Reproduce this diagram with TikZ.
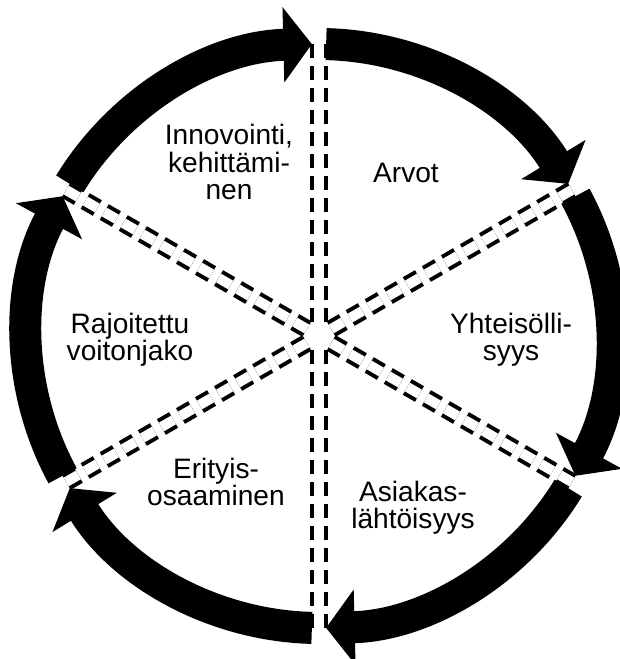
\documentclass[tikz,border=0pt]{standalone}
\usepackage{fontspec}
\setmainfont{Liberation Sans}
\usetikzlibrary{arrows.meta}

\begin{document}
\begin{tikzpicture}[
    x=0.02cm, y=0.02cm,
    seg/.style={line width=0.64cm, -{Triangle[width=1.48cm, length=0.57cm]}},
    divider/.style={line width=0.08cm, double, double distance=0.2cm, dash pattern=on 0.28cm off 0.16cm},
    txt/.style={align=center, font=\fontsize{16}{15.6}\selectfont, inner sep=0pt},
  ]
  \useasboundingbox (-319,-323) rectangle (300,336);

  \coordinate (c) at (0,0);

  % Dividers
  \foreach \a [count=\i] in {90,30,-30,-90,-150,150} {
    \coordinate (in\i) at (\a:14);
    \coordinate (out\i) at (\a:293);
    \draw[divider] (in\i) -- (out\i);
  }

  % Ring segments, clockwise
  \foreach \a in {150,90,30,-30,-90,-150}
    \draw[seg] (c) ++(\a-1.4:292) arc[start angle=\a-1.4, end angle=\a-58.6, radius=292];

  % Labels
  \node[txt] (innov) at (-90,174) {Innovointi,\\kehittämi-\\nen};
  \node[txt] (arvot) at (87,163) {Arvot};
  \node[txt] (yhteis) at (192,-4) {Yhteisölli-\\syys};
  \node[txt] (asiakas) at (94,-172) {Asiakas-\\lähtöisyys};
  \node[txt] (erit) at (-103,-146) {Erityis-\\osaaminen};
  \node[txt] (rajoit) at (-189,-4) {Rajoitettu\\voitonjako};

\end{tikzpicture}
\end{document}
